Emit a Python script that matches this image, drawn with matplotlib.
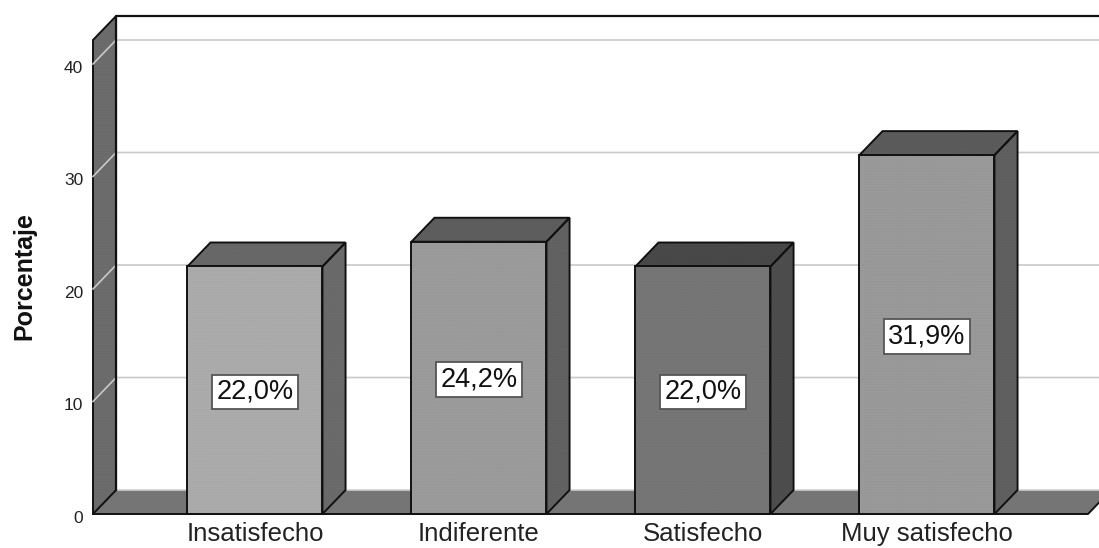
import matplotlib
matplotlib.use("Agg")
import matplotlib.pyplot as plt
from matplotlib.patches import Polygon
from matplotlib.transforms import ScaledTranslation

plt.rcParams['font.family'] = ['Liberation Sans', 'DejaVu Sans']
plt.rcParams['hatch.linewidth'] = 0.3

# data
categories = ["Insatisfecho", "Indiferente", "Satisfecho", "Muy satisfecho"]
percentages = [22.0, 24.2, 22.0, 31.9]
value_labels = ["22,0%", "24,2%", "22,0%", "31,9%"]
y_ticks = [0, 10, 20, 30, 40]

# bar colours: front, top, side and the lighter stipple on each
front_colors = ["#a9a9a9", "#999999", "#747474", "#979797"]
front_speckle = ["#b4b4b4", "#a4a4a4", "#7c7c7c", "#a2a2a2"]
top_colors = ["#666666", "#5c5c5c", "#474747", "#5a5a5a"]
top_speckle = ["#6e6e6e", "#646464", "#4e4e4e", "#626262"]
side_colors = ["#696969", "#606060", "#4c4c4c", "#5e5e5e"]
side_speckle = ["#717171", "#686868", "#535353", "#666666"]

# depth of the 3D box, in data units
y_top = 42.13
x_left, x_right = -0.723, 3.719
depth_x = 0.103
depth_y = 2.13
bar_width = 0.603

fig = plt.figure(figsize=(10.99, 5.48), dpi=100)
ax = fig.add_axes([93 / 1099, 34 / 548, 995 / 1099, 474 / 548])
ax.set_xlim(x_left, x_right)
ax.set_ylim(0, y_top)


def add_face(points, color, speckle, z, lw=1.4, edge="#111111"):
    # shaded face with a light stipple and a separate dark outline
    ax.add_patch(Polygon(points, closed=True, facecolor=color, edgecolor=speckle,
                         hatch="......", linewidth=0, zorder=z, clip_on=False))
    ax.add_patch(Polygon(points, closed=True, fill=False, edgecolor=edge,
                         linewidth=lw, zorder=z + 0.1, clip_on=False))


# left wall and floor
add_face([(x_left, 0), (x_left + depth_x, depth_y), (x_left + depth_x, y_top + depth_y),
          (x_left, y_top)], "#6a6a6a", "#747474", 1)
add_face([(x_left, 0), (x_left + depth_x, depth_y), (x_right + depth_x, depth_y),
          (x_right, 0)], "#757575", "#757575", 1, lw=0)
ax.plot([x_left, x_right, x_right + depth_x], [0, 0, depth_y], color="#111111",
        lw=1.4, zorder=1.2, clip_on=False)
ax.plot([x_left + depth_x, x_right + depth_x], [depth_y, depth_y], color="#cfcfcf",
        lw=1.2, zorder=1.2, clip_on=False)
ax.plot([x_left + depth_x, x_left + depth_x, x_right + depth_x],
        [depth_y, y_top + depth_y, y_top + depth_y], color="#111111", lw=1.6,
        zorder=1.3, clip_on=False)

# gridlines run across the back wall and down the left wall
for tick in y_ticks[1:]:
    ax.plot([x_left, x_left + depth_x, x_right + depth_x],
            [tick, tick + depth_y, tick + depth_y], color="#c9c9c9", lw=1.2,
            zorder=1.25, clip_on=False)

# bars
positions = list(range(len(categories)))
ax.bar(positions, percentages, width=bar_width, color=front_colors,
       edgecolor=front_speckle, hatch="......", linewidth=0, zorder=3, clip_on=False)
ax.bar(positions, percentages, width=bar_width, fill=False, edgecolor="#111111",
       linewidth=1.4, zorder=3.1, clip_on=False)

for i, value in enumerate(percentages):
    left = i - bar_width / 2
    right = i + bar_width / 2
    add_face([(left, value), (left + depth_x, value + depth_y),
              (right + depth_x, value + depth_y), (right, value)],
             top_colors[i], top_speckle[i], 2.5)
    add_face([(right, 0), (right + depth_x, depth_y),
              (right + depth_x, value + depth_y), (right, value)],
             side_colors[i], side_speckle[i], 2.5)

# value labels in the middle of each bar
for pos, value, label in zip(positions, percentages, value_labels):
    ax.annotate(label, xy=(pos, value / 2), xytext=(0, -1.2), textcoords="offset points",
                ha="center", va="center", fontsize=19.5, color="#111111", zorder=5,
                bbox=dict(boxstyle="square,pad=0.16", facecolor="white",
                          edgecolor="#555555", linewidth=1.3))

# axes text
for side in ax.spines.values():
    side.set_visible(False)
ax.set_xticks(positions)
ax.set_xticklabels(categories, fontsize=18.5, color="#222222")
ax.set_yticks(y_ticks)
ax.set_yticklabels([str(t) for t in y_ticks], fontsize=12.5, color="#222222")
ax.tick_params(axis="x", length=0, pad=6)
ax.tick_params(axis="y", length=0, pad=7)
ax.patch.set_visible(False)

# tick numbers sit a little below their gridline ends
shift_down = ScaledTranslation(0, -3 / 100, fig.dpi_scale_trans)
for label in ax.get_yticklabels():
    label.set_transform(label.get_transform() + shift_down)

fig.text(24 / 1099, 1 - 276 / 548, "Porcentaje", rotation=90, ha="center", va="center",
         fontsize=18, fontweight="bold", color="#111111")

fig.savefig("out.png", dpi=100, facecolor="white")
